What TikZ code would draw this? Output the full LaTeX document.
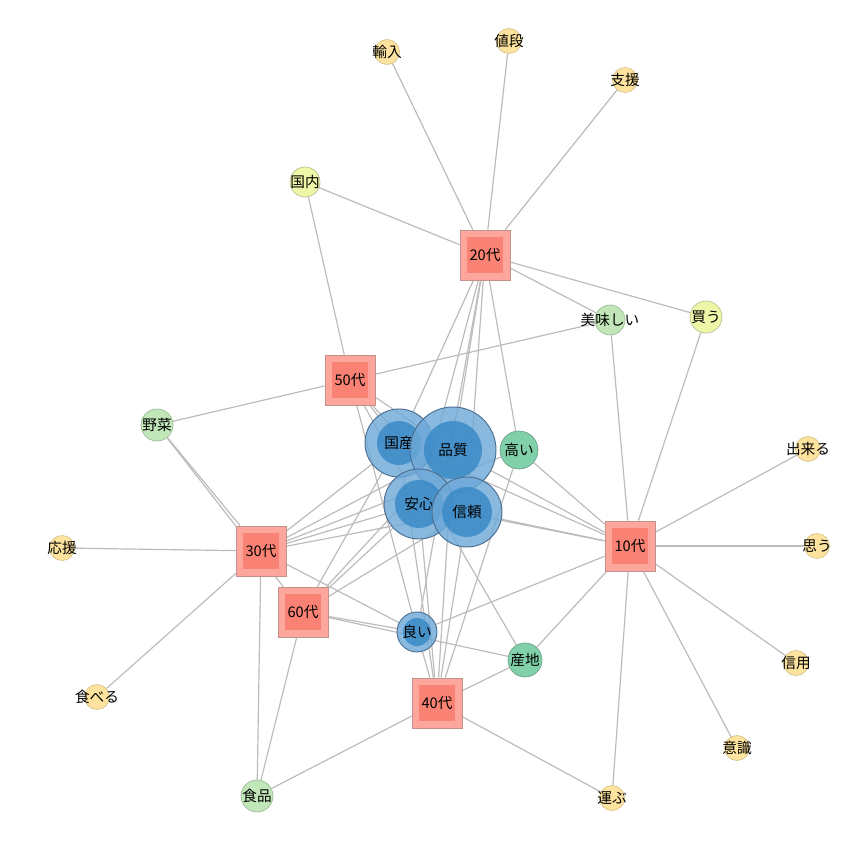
\documentclass[tikz,border=0pt]{standalone}
\usepackage{fontspec}
\setmainfont{Noto Sans CJK JP}
\pgfdeclarelayer{bg}
\pgfsetlayers{bg,main}
\definecolor{salmonout}{RGB}{252,166,156}
\definecolor{salmonin}{RGB}{250,130,116}
\definecolor{sqborder}{RGB}{195,145,140}
\definecolor{blueout}{RGB}{108,168,215}
\definecolor{bluein}{RGB}{58,138,199}
\definecolor{blueborder}{RGB}{75,110,145}
\definecolor{tealc}{RGB}{128,208,170}
\definecolor{tealb}{RGB}{110,160,138}
\definecolor{lgreen}{RGB}{193,230,184}
\definecolor{lgreenb}{RGB}{155,185,150}
\definecolor{ygreen}{RGB}{238,246,168}
\definecolor{ygreenb}{RGB}{185,190,145}
\definecolor{yel}{RGB}{253,227,158}
\definecolor{yelb}{RGB}{212,192,135}
\definecolor{edgec}{RGB}{188,188,188}
\begin{document}
\begin{tikzpicture}[x=0.75pt,y=-0.75pt,
  every node/.style={font=\fontsize{11}{13}\selectfont, text=black},
  age/.style={rectangle, draw=sqborder, fill=salmonout, line width=0.6pt,
    minimum size=37.5pt, inner sep=0pt,
    path picture={\fill[salmonin] ([shift={(-13.5pt,-13.5pt)}]path picture bounding box.center) rectangle ([shift={(13.5pt,13.5pt)}]path picture bounding box.center);}},
  word/.style 2 args={circle, draw=blueborder, line width=0.7pt, fill=blueout,
    fill opacity=0.8, text opacity=1, minimum size=#1, inner sep=0pt,
    path picture={\fill[bluein, fill opacity=0.85] (path picture bounding box.center) circle (#2);}},
  sm/.style 2 args={circle, draw=#2, fill=#1, minimum size=18.75pt, inner sep=0pt, line width=0.5pt},
  ed/.style={draw=edgec, line width=0.9pt}]
\useasboundingbox (0,0) rectangle (865,842);

% age group nodes
\node[age] (n20) at (485,255) {20代};
\node[age] (n50) at (350,380) {50代};
\node[age] (n30) at (261,551) {30代};
\node[age] (n60) at (303,612) {60代};
\node[age] (n40) at (437,703) {40代};
\node[age] (n10) at (630,546) {10代};

% main words
\node[word={51pt}{16.5pt}] (kokusan) at (399,443) {国産};
\node[word={64.5pt}{21.75pt}] (hinshitsu) at (453,450) {品質};
\node[word={52.5pt}{18pt}] (anshin) at (419,504) {安心};
\node[word={52.5pt}{18.75pt}] (shinrai) at (467,512) {信頼};
\node[word={30pt}{10.5pt}] (yoi) at (417,632) {良い};
\node[sm={tealc}{tealb}, minimum size=28.5pt] (takai) at (519,450) {\makebox[0pt]{高い}};
\node[sm={tealc}{tealb}, minimum size=25.5pt] (sanchi) at (525,660) {\makebox[0pt]{産地}};

% small words
\node[sm={yel}{yelb}] (yunyu) at (387,52) {\makebox[0pt]{輸入}};
\node[sm={yel}{yelb}] (nedan) at (509,41) {\makebox[0pt]{値段}};
\node[sm={yel}{yelb}] (shien) at (625,80) {\makebox[0pt]{支援}};
\node[sm={ygreen}{ygreenb}, minimum size=22.5pt] (kokunai) at (305,182) {\makebox[0pt]{国内}};
\node[sm={lgreen}{lgreenb}, minimum size=22.5pt] (oishii) at (610,320) {\makebox[0pt]{美味しい}};
\node[sm={ygreen}{ygreenb}, minimum size=24pt] (kau) at (706,317) {\makebox[0pt]{買う}};
\node[sm={lgreen}{lgreenb}, minimum size=24pt] (yasai) at (157,425) {\makebox[0pt]{野菜}};
\node[sm={yel}{yelb}] (dekiru) at (808,449) {\makebox[0pt]{出来る}};
\node[sm={yel}{yelb}] (omou) at (817,546) {\makebox[0pt]{思う}};
\node[sm={yel}{yelb}] (shinyo) at (796,663) {\makebox[0pt]{信用}};
\node[sm={yel}{yelb}] (ishiki) at (737,748) {\makebox[0pt]{意識}};
\node[sm={yel}{yelb}] (ouen) at (62,548) {\makebox[0pt]{応援}};
\node[sm={yel}{yelb}] (taberu) at (97,697) {\makebox[0pt]{食べる}};
\node[sm={lgreen}{lgreenb}, minimum size=24pt] (shokuhin) at (257,796) {\makebox[0pt]{食品}};
\node[sm={yel}{yelb}] (hakobu) at (612,798) {\makebox[0pt]{運ぶ}};

\begin{pgfonlayer}{bg}
\foreach \b in {yunyu,nedan,shien,kokunai,oishii,kau,kokusan,hinshitsu,anshin,shinrai,takai,yoi}
  \draw[ed] (n20) -- (\b);
\foreach \b in {kokunai,yasai,oishii,kokusan,hinshitsu,anshin,shinrai,yoi}
  \draw[ed] (n50) -- (\b);
\foreach \b in {ouen,taberu,yasai,shokuhin,kokusan,hinshitsu,anshin,shinrai,takai,yoi}
  \draw[ed] (n30) -- (\b);
\foreach \b in {yasai,shokuhin,kokusan,hinshitsu,anshin,shinrai,yoi,sanchi}
  \draw[ed] (n60) -- (\b);
\foreach \b in {shokuhin,hakobu,sanchi,kokusan,hinshitsu,anshin,shinrai,yoi,takai}
  \draw[ed] (n40) -- (\b);
\foreach \b in {dekiru,omou,shinyo,ishiki,hakobu,kau,oishii,takai,hinshitsu,kokusan,anshin,shinrai,yoi,sanchi}
  \draw[ed] (n10) -- (\b);
\draw[ed] (kokusan) -- (sanchi);
\end{pgfonlayer}
\end{tikzpicture}
\end{document}
